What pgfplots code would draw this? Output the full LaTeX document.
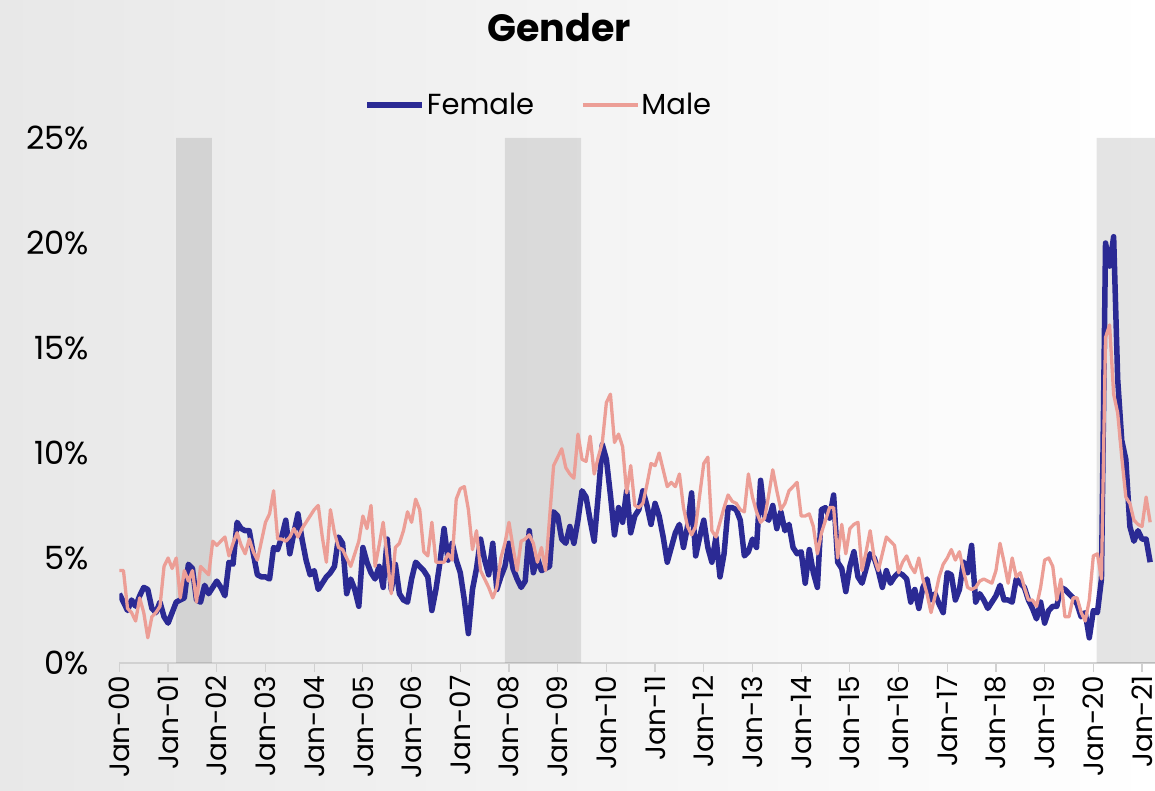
\documentclass[border=0pt]{standalone}
\usepackage{fontspec}
\setmainfont{Poppins}
\usepackage{pgfplots}
\pgfplotsset{compat=1.18}
\usepackage{pgfplotstable}
\definecolor{fem}{RGB}{43,42,148}
\definecolor{mal}{RGB}{236,158,150}
\pgfplotstableread{
female male
3.3 4.4
2.9 4.4
2.5 2.6
3.0 2.4
2.7 2.0
3.2 3.1
3.6 2.4
3.5 1.2
2.6 2.2
2.4 2.4
2.9 2.7
2.2 4.6
1.9 5.0
2.4 4.5
2.9 5.0
3.0 3.1
3.1 4.4
4.7 3.9
4.5 4.4
3.0 2.9
2.9 4.6
3.7 4.4
3.3 4.2
3.6 5.8
3.9 5.6
3.6 5.8
3.2 6.0
4.8 5.1
4.7 5.7
6.7 6.2
6.4 5.6
6.3 5.2
6.3 5.9
5.2 5.3
4.2 4.9
4.1 5.8
4.1 6.7
4.0 7.1
5.5 8.2
5.4 5.9
6.0 5.9
6.8 5.8
5.2 6.0
6.2 6.4
7.1 6.0
5.9 6.4
4.9 6.7
4.2 7.0
4.4 7.3
3.5 7.5
3.8 6.0
4.1 4.8
4.3 7.3
4.6 6.2
6.0 5.5
5.7 5.4
3.3 5.0
4.0 4.6
3.5 5.2
2.7 5.8
5.5 7.0
4.8 6.4
4.3 7.5
4.0 4.6
4.6 5.6
3.6 6.7
5.9 5.0
3.5 3.3
4.7 5.5
3.3 5.7
3.0 6.3
2.9 7.2
4.0 6.7
4.8 7.8
4.6 7.3
4.4 5.3
4.1 5.1
2.5 6.7
3.5 4.8
4.8 4.8
6.4 4.8
4.9 5.2
5.7 4.9
4.9 7.8
4.3 8.3
3.0 8.4
1.4 7.3
3.5 5.4
4.5 6.3
5.9 4.4
4.9 4.0
4.2 3.6
5.7 3.1
3.5 3.6
4.1 5.0
4.6 5.7
5.7 6.7
4.5 5.5
4.0 4.4
3.6 5.8
3.9 5.9
6.3 6.1
4.3 5.7
5.0 4.8
4.4 5.5
4.5 4.4
4.6 6.9
7.2 9.4
7.0 9.8
5.9 10.2
5.7 9.3
6.5 9.0
5.7 8.8
6.8 10.9
8.2 9.7
7.9 9.6
6.8 10.8
5.8 9.0
8.0 9.8
10.4 10.5
9.7 12.4
8.0 12.8
6.1 10.5
7.4 10.9
6.7 10.3
8.2 8.1
6.2 9.4
7.0 7.5
7.3 7.4
8.2 7.6
7.5 8.5
6.6 9.5
7.6 9.4
7.0 10.0
6.0 9.2
4.8 8.4
5.5 8.6
6.2 8.4
6.6 9.0
5.5 7.4
6.5 6.5
8.1 6.1
5.1 6.5
6.0 8.0
6.8 9.5
5.5 9.8
4.8 6.3
6.0 6.0
4.1 6.7
5.2 7.4
7.4 8.0
7.4 7.7
7.3 7.6
6.8 7.3
5.1 7.2
5.3 9.0
5.9 7.9
5.5 7.2
8.7 6.7
7.0 6.9
6.8 8.0
7.5 9.2
6.4 8.2
7.2 7.3
6.3 7.6
6.6 8.2
5.5 8.4
5.2 8.6
5.3 7.0
3.8 7.0
5.4 7.1
4.3 6.5
3.6 5.2
7.3 6.2
7.4 6.8
6.9 7.4
8.0 7.4
4.8 5.0
4.5 6.6
3.4 5.2
4.6 6.4
5.3 6.6
4.1 6.7
3.8 4.4
4.5 5.3
5.2 6.3
5.0 5.0
4.4 4.4
3.6 5.2
4.4 6.0
3.8 5.8
4.1 5.6
4.3 4.3
4.2 4.8
4.0 5.1
2.9 4.6
3.5 4.3
2.6 5.0
3.6 4.0
4.0 3.3
3.0 2.4
3.3 3.2
2.8 4.1
2.4 4.7
4.3 5.0
4.2 5.4
3.0 4.9
3.5 5.3
4.8 4.4
4.3 3.6
5.6 3.5
2.9 3.6
3.3 3.9
3.0 4.0
2.6 3.9
2.9 3.8
3.2 4.4
3.7 5.7
3.0 4.8
3.0 3.8
2.9 5.0
4.0 4.1
3.8 4.3
3.6 3.6
3.0 3.0
2.6 3.0
2.1 2.7
2.9 3.6
1.9 4.9
2.5 5.0
2.7 4.6
2.7 3.0
3.6 4.0
3.5 2.2
3.3 2.2
3.1 3.1
2.8 3.1
2.2 2.4
2.4 2.0
1.2 3.0
2.5 5.1
2.4 5.2
4.0 4.0
20.0 15.5
18.9 16.1
20.3 12.8
13.5 11.9
10.6 9.8
9.7 7.9
6.5 7.6
5.8 6.8
6.3 6.6
5.9 6.5
5.9 7.9
4.8 6.7
}\datatable
\begin{document}
\begin{tikzpicture}[x=1pt,y=1pt]
\useasboundingbox (0,0) rectangle (1155,791);
\shade[left color=black!9, right color=white] (0,0) rectangle (1155,791);
\begin{axis}[
  at={(119.4pt,128pt)}, anchor=south west,
  scale only axis, width=1035.6pt, height=525pt,
  xmin=0, xmax=255.2, ymin=0, ymax=25,
  axis lines*=left,
  x axis line style={draw=black!18, line width=1.5pt},
  y axis line style={draw=none},
  xtick={0,12,...,252},
  xticklabels={Jan-00,Jan-01,Jan-02,Jan-03,Jan-04,Jan-05,Jan-06,Jan-07,Jan-08,Jan-09,Jan-10,Jan-11,Jan-12,Jan-13,Jan-14,Jan-15,Jan-16,Jan-17,Jan-18,Jan-19,Jan-20,Jan-21},
  xticklabel style={rotate=90, anchor=east, font=\fontsize{28}{28}\selectfont},
  tick align=outside,
  major tick length=9pt,
  xtick style={draw=black!18, line width=1.2pt},
  ytick={0,5,...,25},
  ytick style={draw=none},
  yticklabel={\pgfmathprintnumber{\tick}\%},
  yticklabel style={font=\fontsize{32}{32}\selectfont, xshift=-18pt},
  /pgf/number format/assume math mode=true,
  legend columns=2,
  legend style={at={(axis description cs:0.405,1.063)}, anchor=center, draw=none, fill=none, font=\fontsize{29}{29}\selectfont, /tikz/every even column/.append style={column sep=45pt}},
  legend image code/.code={\draw[#1] (0pt,0pt) -- (55pt,0pt);},
]
\addplot[fill=black, fill opacity=0.1, draw=none, forget plot] coordinates {(14,0) (14,25) (22.8,25) (22.8,0)} \closedcycle;
\addplot[fill=black, fill opacity=0.1, draw=none, forget plot] coordinates {(95,0) (95,25) (113.8,25) (113.8,0)} \closedcycle;
\addplot[fill=black, fill opacity=0.1, draw=none, forget plot] coordinates {(240.8,0) (240.8,25) (255.2,25) (255.2,0)} \closedcycle;
\addplot[color=fem, line width=5.5pt, line join=round] table[x expr=\coordindex, y=female] {\datatable};
\addlegendentry{Female}
\addplot[color=mal, line width=3.3pt, line join=round] table[x expr=\coordindex, y=male] {\datatable};
\addlegendentry{Male}
\end{axis}
\node[font=\bfseries\fontsize{38}{38}\selectfont] at (559,763) {Gender};
\end{tikzpicture}
\end{document}
